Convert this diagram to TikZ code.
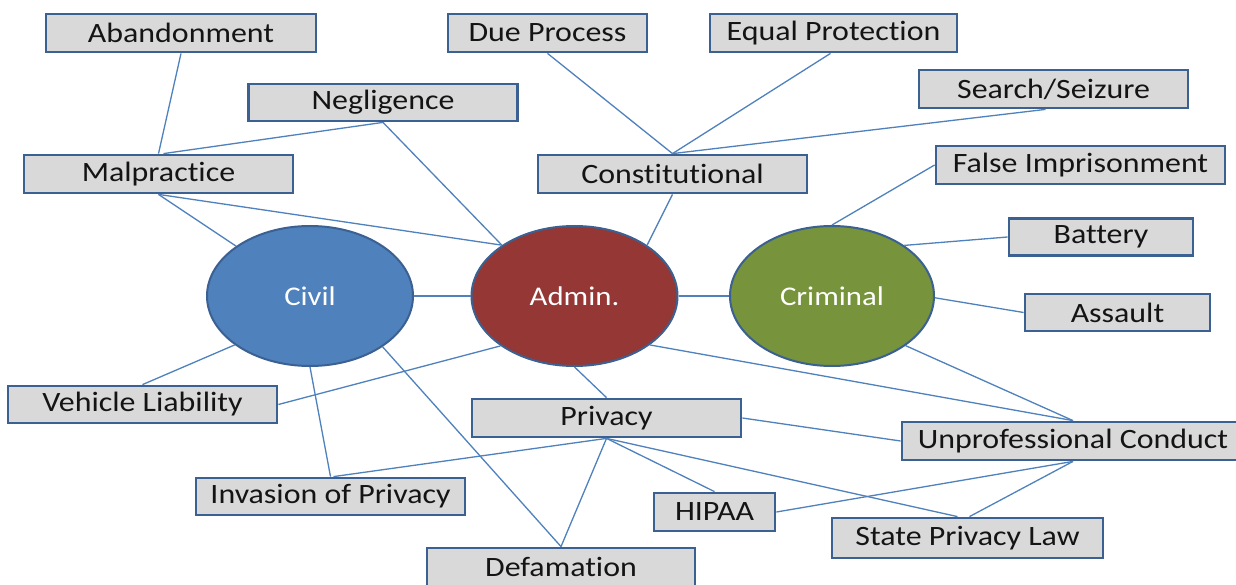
\documentclass[tikz,border=0pt]{standalone}
\usepackage{fontspec}
\setmainfont[FakeStretch=1.14,Ligatures=NoCommon]{Carlito}
\usetikzlibrary{shapes.geometric,calc}
\definecolor{boxfill}{HTML}{D9D9D9}
\definecolor{boxborder}{HTML}{3B6092}
\definecolor{conncol}{HTML}{4F81BD}
\definecolor{civilcol}{HTML}{4F81BD}
\definecolor{admincol}{HTML}{953735}
\definecolor{crimcol}{HTML}{77933C}
\definecolor{txt}{HTML}{141414}
\begin{document}
\begin{tikzpicture}[x=1pt,y=-1pt,
  box/.style={draw=boxborder, line width=2.8pt, fill=boxfill, inner sep=0pt,
    minimum height=38pt, font=\fontsize{28}{30}\selectfont, text=txt},
  hub/.style={ellipse, draw=boxborder, line width=2pt, inner sep=0pt,
    minimum width=206pt, minimum height=140pt, text=white,
    font=\fontsize{27}{29}\selectfont},
  conn/.style={draw=conncol, line width=1.3pt}]
\useasboundingbox (0,0) rectangle (1236,585);
\fill[white] (0,0) rectangle (1236,585);

% hubs
\node[hub, fill=civilcol] (civil) at (310,296) {Civil};
\node[hub, fill=admincol] (admin) at (574.5,296) {Admin.};
\node[hub, fill=crimcol, minimum width=204pt] (crim) at (832,296) {Criminal};

% boxes
\node[box, minimum width=270pt] (aband) at (181,33) {Abandonment};
\node[box, minimum width=199pt] (dp) at (547.5,33) {Due Process};
\node[box, minimum width=247pt] (ep) at (833.5,33) {Equal Protection};
\node[box, minimum width=269pt] (ss) at (1053.5,89) {Search/Seizure};
\node[box, minimum width=269pt, minimum height=37pt] (negl) at (383,102.5) {Negligence};
\node[box, minimum width=269pt] (mal) at (158.5,174) {Malpractice};
\node[box, minimum width=269pt] (const) at (672.5,174) {Constitutional};
\node[box, minimum width=289pt] (fi) at (1080.5,165) {False Imprisonment};
\node[box, minimum width=184pt, minimum height=37pt] (bat) at (1101,237) {Battery};
\node[box, minimum width=185pt, minimum height=37pt] (asl) at (1117.5,312.5) {Assault};
\node[box, minimum width=269pt, minimum height=37pt] (vl) at (142.5,404.5) {Vehicle Liability};
\node[box, minimum width=269pt, minimum height=37pt] (inv) at (330.5,496.5) {Invasion of Privacy};
\node[box, minimum width=268pt] (def) at (561,567) {Defamation};
\node[box, minimum width=269pt] (priv) at (606.5,418) {Privacy};
\node[box, minimum width=121pt] (hipaa) at (714.5,512) {HIPAA};
\node[box, minimum width=342pt] (unpro) at (1073,441) {Unprofessional Conduct};
\node[box, minimum width=271pt, minimum height=40pt] (spl) at (967.5,538) {State Privacy Law};

% connectors
\draw[conn] (aband.south) -- (mal.north);
\draw[conn] (negl.south) -- ($(mal.north)+(5,0)$);
\draw[conn] (negl.south) -- (admin.145);
\draw[conn] (mal.south) -- (civil.146);
\draw[conn] (mal.south) -- (admin.145);
\draw[conn] (dp.south) -- (const.north);
\draw[conn] ($(ep.south)+(-3,0)$) -- (const.north);
\draw[conn] ($(ss.south)+(-8,0)$) -- (const.north);
\draw[conn] (const.south) -- (admin.35);
\draw[conn] (fi.west) -- (crim.90);
\draw[conn] (bat.west) -- (crim.35);
\draw[conn] (asl.west) -- (crim.-1);
\draw[conn] (civil.east) -- (admin.west);
\draw[conn] (admin.east) -- (crim.west);
\draw[conn] (civil.213.5) -- (vl.north);
\draw[conn] (vl.east) -- (admin.214);
\draw[conn] (civil.270) -- (inv.north);
\draw[conn] (civil.325) -- (def.north);
\draw[conn] (admin.270) -- (priv.north);
\draw[conn] (admin.327) -- (unpro.north);
\draw[conn] (crim.326) -- (unpro.north);
\draw[conn] (priv.east) -- (unpro.west);
\draw[conn] (priv.south) -- ($(inv.north)+(3,0)$);
\draw[conn] (priv.south) -- (def.north);
\draw[conn] (priv.south) -- (hipaa.north);
\draw[conn] (priv.south) -- ($(spl.north)+(-10,0)$);
\draw[conn] (hipaa.east) -- (unpro.south);
\draw[conn] ($(spl.north)+(2,0)$) -- (unpro.south);
\end{tikzpicture}
\end{document}
